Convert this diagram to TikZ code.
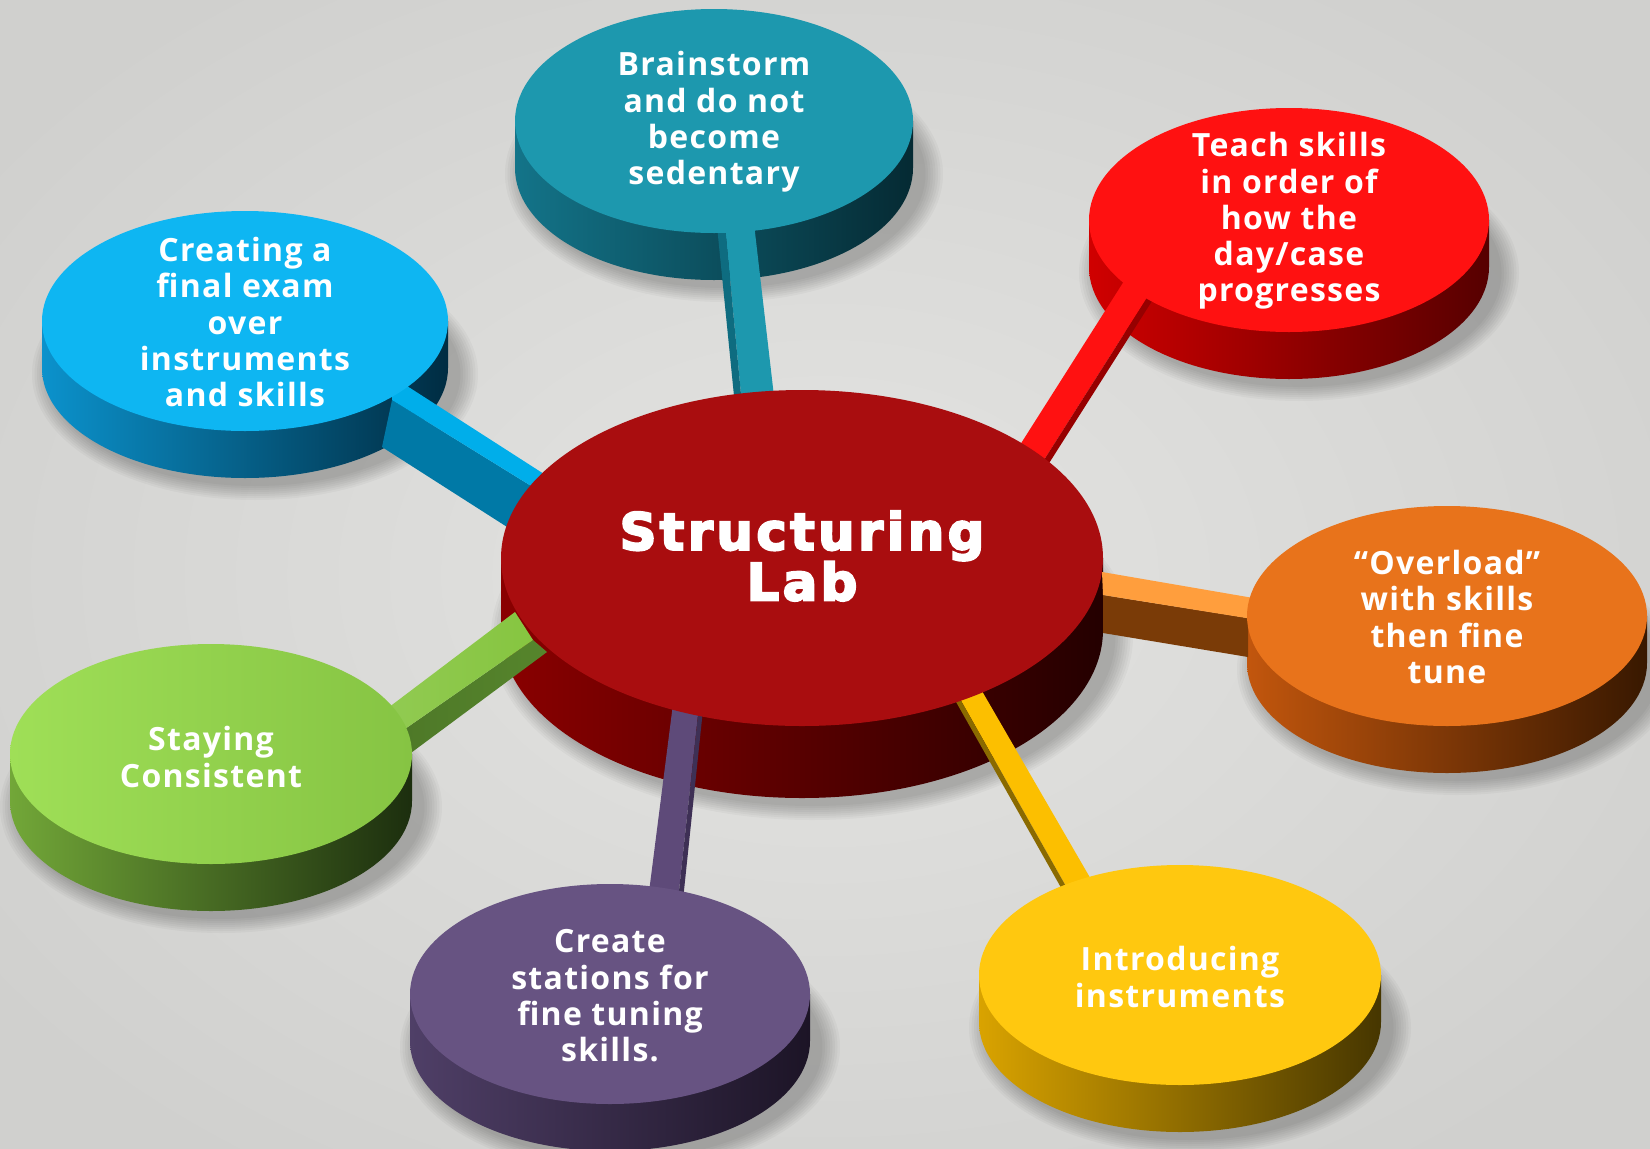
\documentclass[tikz,border=0pt]{standalone}
\usepackage{fontspec}
\usetikzlibrary{shapes.geometric}
\newfontfamily\satfont[LetterSpace=4]{Open Sans}
\newfontfamily\hubfont[LetterSpace=7]{DejaVu Sans}
\newcommand\heavytext[1]{\special{pdf:literal direct 2 Tr 2.2 w}#1\special{pdf:literal direct 0 Tr 1 w}}
% background
\definecolor{bgIn}{HTML}{E4E4E2}
\definecolor{bgOut}{HTML}{D0D0CE}
% hub
\definecolor{hubTop}{HTML}{A90D0F}
\definecolor{hubSideL}{HTML}{8A0000}
\definecolor{hubSideR}{HTML}{240000}
% teal
\definecolor{tealTop}{HTML}{1D98AE}
\definecolor{tealSideL}{HTML}{137489}
\definecolor{tealSideR}{HTML}{052A33}
\definecolor{tealBarD}{HTML}{0E6C80}
% red
\definecolor{redTop}{HTML}{FF1111}
\definecolor{redSideL}{HTML}{D00000}
\definecolor{redSideR}{HTML}{560000}
\definecolor{redBarD}{HTML}{960000}
% blue
\definecolor{blueTop}{HTML}{0EB6F2}
\definecolor{blueSideL}{HTML}{0B92CC}
\definecolor{blueSideR}{HTML}{002C42}
\definecolor{blueBar}{HTML}{00AEEA}
\definecolor{blueBarD}{HTML}{0079A6}
% orange
\definecolor{orangeTop}{HTML}{E8731B}
\definecolor{orangeSideL}{HTML}{C2560D}
\definecolor{orangeSideR}{HTML}{381800}
\definecolor{orangeBar}{HTML}{FF9E3D}
\definecolor{orangeBarD}{HTML}{7A3B07}
% green
\definecolor{greenTopL}{HTML}{9FDF57}
\definecolor{greenTopR}{HTML}{86C443}
\definecolor{greenSideL}{HTML}{72A738}
\definecolor{greenSideR}{HTML}{1C2E0E}
\definecolor{greenBar}{HTML}{86C540}
\definecolor{greenBarD}{HTML}{56852C}
% purple
\definecolor{purpleTop}{HTML}{675382}
\definecolor{purpleSideL}{HTML}{4F3F67}
\definecolor{purpleSideR}{HTML}{1C1426}
\definecolor{purpleBar}{HTML}{5E4A79}
\definecolor{purpleBarD}{HTML}{3E3055}
% yellow
\definecolor{yellowTop}{HTML}{FFC80F}
\definecolor{yellowSideL}{HTML}{D9A300}
\definecolor{yellowSideR}{HTML}{463600}
\definecolor{yellowBar}{HTML}{FCBF00}
\definecolor{yellowBarD}{HTML}{8A6A00}

% #1 cx, #2 cy, #3 rx, #4 ry, #5 depth
\newcommand\DiskShadow[5]{%
  \foreach \k in {1,...,8}{%
    \fill[black,opacity=0.03] (#1+10,#2+#5+6) ellipse [x radius=#3+2.5*\k, y radius=#4+2*\k];}}
% #1 cx, #2 cy, #3 rx, #4 ry, #5 depth, #6 left colour, #7 right colour
\newcommand\DiskSide[7]{%
  \shade[left color=#6,right color=#7]
    (#1-#3,#2) -- (#1-#3,#2+#5)
    arc[start angle=180,end angle=360,x radius=#3pt,y radius=#4pt]
    -- (#1+#3,#2) -- cycle;}

\tikzset{
  disktop/.style={ellipse, inner sep=0pt, draw=none},
  sattext/.style={text=white, align=center, inner sep=0pt,
    font=\satfont\bfseries\fontsize{32}{36.3}\selectfont},
  hubtext/.style={text=white, align=center, inner sep=0pt,
    font=\hubfont\bfseries\fontsize{51}{50.5}\selectfont}
}

\begin{document}
\begin{tikzpicture}[x=1pt,y=-1pt]
\useasboundingbox (0,0) rectangle (1650,1149);
\shade[inner color=bgIn, outer color=bgOut] (-200,-150) rectangle (1850,1300);

% shadows
\DiskShadow{802}{558}{301}{168}{72}
\DiskShadow{714}{121}{199}{112}{47}
\DiskShadow{1289}{220}{200}{112}{47}
\DiskShadow{245}{321}{203}{110}{47}
\DiskShadow{1447}{616}{200}{110}{47}
\DiskShadow{211}{754}{201}{110}{47}
\DiskShadow{610}{994}{200}{110}{47}
\DiskShadow{1180}{975}{201}{110}{47}

% disk sides
\DiskSide{802}{558}{301}{168}{72}{hubSideL}{hubSideR}
\DiskSide{714}{121}{199}{112}{47}{tealSideL}{tealSideR}
\DiskSide{1289}{220}{200}{112}{47}{redSideL}{redSideR}
\DiskSide{245}{321}{203}{110}{47}{blueSideL}{blueSideR}
\DiskSide{1447}{616}{200}{110}{47}{orangeSideL}{orangeSideR}
\DiskSide{211}{754}{201}{110}{47}{greenSideL}{greenSideR}
\DiskSide{610}{994}{200}{110}{47}{purpleSideL}{purpleSideR}
\DiskSide{1180}{975}{201}{110}{47}{yellowSideL}{yellowSideR}

% connector bars
% teal
\fill[tealTop] (724,215) -- (753,215) -- (775,405) -- (742,405) -- cycle;
\fill[tealBarD] (716,216) -- (724,215) -- (742,405) -- (735,406) -- cycle;
% red
\fill[redTop] (1013,456) -- (1133,267) -- (1157,282) -- (1037,471) -- cycle;
\fill[redBarD] (1037,471) -- (1157,282) -- (1159,290) -- (1039,479) -- cycle;
% blue
\fill[blueBarD] (392,400) -- (562,505) -- (540,548) -- (382,447) -- cycle;
\fill[blueBar] (393,377) -- (572,492) -- (562,505) -- (392,400) -- cycle;
% green
\shade[left color=greenBarD!90!black, right color=greenBarD] (392,738) -- (533,640) -- (547,652) -- (400,761) -- cycle;
\shade[left color=greenBar!90!white, right color=greenBar] (376,717) -- (515,612) -- (533,640) -- (392,738) -- cycle;
% orange
\fill[orangeBarD] (1103,595) -- (1248,618) -- (1248,657) -- (1103,633) -- cycle;
\fill[orangeBar] (1102,572) -- (1265,600) -- (1265,621) -- (1103,595) -- cycle;
% purple
\fill[purpleBar] (673.5,700) -- (699.6,700) -- (678,900) -- (648,900) -- cycle;
\fill[purpleBarD] (699.6,700) -- (704,700) -- (683,900) -- (678,900) -- cycle;
% yellow
\fill[yellowBar] (955,690) -- (975,679) -- (1096,888) -- (1072,897) -- cycle;
\fill[yellowBarD] (955,690) -- (1072,897) -- (1068,900) -- (951,693) -- cycle;

% disk tops
\node[disktop, fill=hubTop, minimum width=602pt, minimum height=336pt] (hub) at (802,558) {};
\node[disktop, fill=tealTop, minimum width=398pt, minimum height=224pt] (brain) at (714,121) {};
\node[disktop, fill=redTop, minimum width=400pt, minimum height=224pt] (teach) at (1289,220) {};
\node[disktop, fill=blueTop, minimum width=406pt, minimum height=220pt] (exam) at (245,321) {};
\node[disktop, fill=orangeTop, minimum width=400pt, minimum height=220pt] (overload) at (1447,616) {};
\node[disktop, left color=greenTopL, right color=greenTopR, minimum width=402pt, minimum height=220pt] (staying) at (211,754) {};
\node[disktop, fill=purpleTop, minimum width=400pt, minimum height=220pt] (stations) at (610,994) {};
\node[disktop, fill=yellowTop, minimum width=402pt, minimum height=220pt] (intro) at (1180,975) {};

% texts
\node[hubtext] (hubT) at (802,556) {\heavytext{Structuring}\\\heavytext{Lab}};
\node[sattext] (brainT) at (714,122) {Brainstorm\\and do not\\become\\sedentary};
\node[sattext] (teachT) at (1289,221) {Teach skills\\in order of\\how the\\day/case\\progresses};
\node[sattext] (examT) at (245,322) {Creating a\\final exam\\over\\instruments\\and skills};
\node[sattext] (overloadT) at (1447,617) {“Overload”\\with skills\\then fine\\tune};
\node[sattext] (stayingT) at (211,757) {Staying\\Consistent};
\node[sattext] (stationsT) at (610,996) {Create\\stations for\\fine tuning\\skills.};
\node[sattext] (introT) at (1180,977) {Introducing\\instruments};
\end{tikzpicture}
\end{document}
